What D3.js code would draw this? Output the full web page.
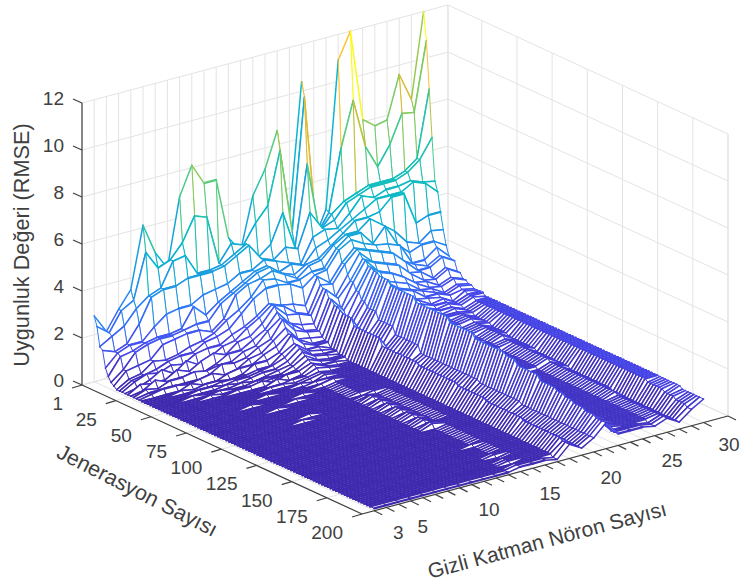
<!DOCTYPE html>
<html><head><meta charset="utf-8">
<script src="https://cdn.jsdelivr.net/npm/d3@7"></script>
<style>html,body{margin:0;padding:0;background:#fff}svg{display:block}text{font-family:"Liberation Sans",Arial,sans-serif;fill:#404040}</style>
</head><body><svg id="c" width="741" height="583"></svg>
<script>
// values are RMSE x 10, one array per hidden-neuron count, rows follow generationRows
const n01=[28,24,16,15,8,5,3,2,1,1, 1,1,1,1,1,1,1,1,1,1, 1,1,1,1,1,1,1,1,1,1, 1,1,1,1,1,1,1,1,1,1, 1,1,1,1,1,1,1,1,1,1, 1,1,1,1,1,1,1,1,1,1, 1,1,1,1,1,1,1,1,1,1, 1,1,1,1,1,1,1,1,1,1, 1,1,1,1,1,1,1,1,1,1, 1,1,1,1,1,1,1,1,1,1];
const n02=[20,20,19,13,13,12,7,7,4,4, 4,2,4,2,3,2,2,1,1,1, 1,1,1,1,1,1,1,1,1,1, 1,1,1,1,1,1,1,1,1,1, 1,1,1,1,1,1,1,1,1,1, 1,1,1,1,1,1,1,1,1,1, 1,1,1,1,1,1,1,1,1,1, 1,1,1,1,1,1,1,1,1,1, 1,1,1,1,1,1,1,1,1,1, 1,1,1,1,1,1,1,1,1,1];
const n03=[28,28,22,15,15,13,13,8,5,5, 6,4,3,5,2,2,3,1,1,1, 1,1,1,1,1,1,1,1,1,1, 1,1,1,1,1,1,1,1,1,1, 1,1,1,1,1,1,1,1,1,1, 1,1,1,1,1,1,1,1,1,1, 1,1,1,1,1,1,1,1,1,1, 1,1,1,1,1,1,1,1,1,1, 1,1,1,1,1,1,1,1,1,1, 1,1,1,1,1,1,1,1,1,1];
const n04=[35,31,28,22,15,15,15,9,9,6, 5,7,3,3,4,2,3,1,2,1, 1,1,2,1,1,1,1,1,1,1, 1,1,1,1,1,1,1,1,1,1, 1,1,1,1,1,1,1,1,1,1, 1,1,1,1,1,1,1,1,1,1, 1,1,1,1,1,1,1,1,1,1, 1,1,1,1,1,1,1,1,1,1, 1,1,1,1,1,1,1,1,1,1, 1,1,1,1,1,1,1,1,1,1];
const n05=[61,50,32,32,20,16,16,14,8,8, 7,4,6,3,4,2,2,3,1,1, 2,1,1,1,2,1,1,1,1,1, 1,1,1,1,1,1,1,1,1,1, 1,1,1,1,1,1,1,1,1,1, 1,1,1,1,1,1,1,1,1,1, 1,1,1,1,1,1,1,1,1,1, 1,1,1,1,1,1,1,1,1,1, 1,1,1,1,1,1,1,1,1,1, 1,1,1,1,1,1,1,1,1,1];
const n06=[48,42,34,34,24,16,16,15,9,9, 6,8,4,4,5,2,3,1,2,1, 2,1,1,2,1,1,1,1,1,1, 1,1,1,1,2,1,1,1,1,1, 1,1,1,1,1,1,1,1,1,1, 1,1,1,1,1,1,1,1,1,1, 1,1,1,1,1,1,1,1,1,1, 1,1,1,1,1,1,1,1,1,1, 1,1,1,1,1,1,1,1,1,1, 1,1,1,1,1,1,1,1,1,1];
const n07=[40,44,44,34,25,17,17,16,11,9, 9,5,7,3,4,3,4,1,2,2, 1,2,1,1,1,2,1,1,1,1, 1,1,1,1,1,1,1,1,1,2, 1,1,1,1,1,1,1,1,2,1, 1,1,1,1,1,1,1,1,1,1, 1,1,1,1,1,1,1,1,1,1, 1,1,1,1,1,1,1,1,1,1, 1,1,1,1,1,1,1,1,1,1, 1,1,1,1,1,1,1,1,1,1];
const n08=[69,50,45,36,25,25,18,16,12,12, 10,7,9,5,5,6,2,3,1,2, 2,1,2,1,1,2,1,1,1,1, 1,2,1,1,1,1,1,1,1,1, 1,1,1,1,1,1,2,1,1,1, 1,1,1,1,1,1,1,1,1,1, 1,1,1,1,1,1,1,1,1,1, 1,1,1,1,1,1,1,1,1,1, 1,1,1,1,1,1,1,1,1,1, 1,1,1,1,1,1,1,1,1,1];
const n09=[81,60,36,36,28,20,18,14,14,13, 10,10,7,8,5,5,3,4,2,2, 2,2,1,2,1,3,1,1,2,1, 1,1,1,1,1,1,1,2,1,1, 1,1,1,1,1,1,1,1,1,1, 1,1,1,1,1,1,1,1,1,1, 1,1,1,1,1,1,1,1,1,1, 1,1,1,1,1,1,1,1,1,1, 1,1,1,1,1,1,1,1,1,1, 1,1,1,1,1,1,1,1,1,1];
const n10=[72,58,36,36,29,24,24,18,18,15, 13,11,11,8,8,6,6,4,5,3, 3,3,2,2,2,1,3,1,2,1, 1,1,1,1,1,2,1,1,1,1, 1,1,1,1,1,1,1,1,1,1, 1,1,1,1,1,1,1,1,1,1, 1,1,1,1,1,1,1,1,1,1, 1,1,1,1,1,1,1,1,1,1, 1,1,1,1,1,1,1,1,1,1, 1,1,1,1,1,1,1,1,1,1];
const n11=[72,37,37,37,30,27,27,27,21,20, 15,15,12,11,9,9,7,7,5,3, 4,3,3,2,2,3,1,2,1,1, 2,1,1,1,1,1,1,1,1,1, 1,1,1,1,1,1,1,1,1,1, 1,1,1,1,1,1,1,1,1,1, 1,1,1,1,1,1,1,1,1,1, 1,1,1,1,1,1,1,1,1,1, 1,1,1,1,1,1,1,1,1,1, 1,1,1,1,1,1,1,1,1,1];
const n12=[46,44,40,40,33,30,30,30,25,25, 18,18,16,14,14,11,11,9,7,7, 6,5,4,4,3,3,2,2,2,2, 1,2,1,2,1,1,1,1,1,1, 1,1,1,1,1,1,1,1,1,1, 1,1,1,1,1,1,1,1,1,1, 1,1,1,1,1,1,1,1,1,1, 1,1,1,1,1,1,1,1,1,1, 1,1,1,1,1,1,1,1,1,1, 1,1,1,1,1,1,1,1,1,1];
const n13=[39,42,43,43,33,33,33,31,31,28, 22,22,22,20,18,18,15,13,13,10, 10,9,8,7,6,5,5,4,3,3, 3,2,2,3,2,2,2,2,2,2, 2,2,2,1,2,2,3,3,2,3, 3,2,3,3,2,3,3,3,2,3, 3,3,2,3,3,3,2,3,3,1, 1,1,1,1,1,1,1,1,1,1, 1,1,2,1,1,1,1,1,1,2, 2,1,1,2,2,2,1,2,2,2];
const n14=[61,50,36,36,36,34,34,33,30,28, 20,20,17,14,14,12,9,9,8,6, 6,5,5,4,4,3,3,3,2,2, 2,2,2,2,2,2,2,2,2,2, 2,2,2,2,1,1,1,1,1,1, 1,1,1,1,1,1,1,1,1,1, 1,1,1,1,1,1,2,2,2,2, 2,2,2,2,2,2,2,2,2,2, 2,2,2,2,2,2,2,2,2,2, 2,2,2,2,2,2,2,2,2,2];
const n15=[71,56,40,34,34,30,30,30,27,27, 19,16,16,12,10,10,8,6,6,6, 5,4,4,3,3,3,2,2,2,2, 2,2,2,2,2,2,2,2,2,2, 2,2,2,2,2,2,2,2,2,2, 2,2,2,2,2,2,2,2,2,2, 2,2,2,2,2,2,2,2,2,2, 2,2,2,2,2,2,2,2,2,2, 2,2,2,2,2,2,2,2,2,2, 2,2,2,2,2,2,2,2,2,2];
const n16=[86,78,52,38,32,32,28,27,27,24, 17,14,14,11,9,9,7,6,6,4, 4,4,3,3,3,2,2,2,2,2, 2,2,2,2,2,2,2,2,2,2, 2,2,2,2,2,2,2,2,2,2, 2,2,2,2,2,2,2,2,2,2, 2,2,2,2,2,2,2,2,2,2, 2,2,2,2,2,2,2,2,2,2, 2,2,2,2,2,2,2,2,2,2, 2,2,2,2,2,2,2,2,1,1];
const n17=[48,42,36,36,30,30,31,31,29,28, 28,25,24,24,21,21,19,19,18,17, 17,17,17,14,14,14,14,14,14,14, 14,14,14,11,11,11,11,11,11,11, 11,11,11,11,11,11,10,10,10,10, 10,10,10,10,10,10,10,10,10,10, 9,9,9,9,9,9,9,9,9,9, 8,8,8,8,8,8,8,8,8,8, 8,8,8,7,7,7,7,7,7,7, 7,7,7,7,7,7,7,6,6,6];
const n18=[104,98,70,50,40,36,32,32,29,29, 24,24,19,19,15,15,12,11,11,9, 9,8,8,8,7,7,7,7,6,6, 6,6,6,5,5,5,5,5,5,5, 5,4,4,4,4,4,4,4,4,4, 4,4,4,4,4,4,3,3,3,3, 3,3,3,3,3,3,3,3,3,3, 3,3,3,3,3,3,3,3,3,3, 3,3,3,3,3,3,3,3,3,3, 3,3,3,3,3,3,3,3,3,3];
const n19=[35,38,40,42,42,38,36,37,36,36, 31,31,27,25,25,22,22,19,19,17, 17,17,17,14,14,14,14,14,14,11, 11,11,11,11,11,11,11,11,8,8, 8,8,8,8,8,8,8,8,8,8, 8,8,8,8,8,8,8,8,8,7, 7,7,7,7,7,7,7,7,7,7, 7,7,7,7,6,6,6,6,6,6, 6,6,6,6,6,6,6,6,6,6, 6,6,6,6,6,6,6,6,6,6];
const n20=[47,46,46,44,41,41,40,40,40,39, 36,36,35,33,33,31,31,30,30,29, 29,29,29,27,27,27,27,27,27,27, 27,27,25,25,25,25,25,25,25,25, 25,25,25,25,23,23,23,23,23,23, 23,23,23,21,21,21,21,21,21,21, 21,21,21,21,20,20,20,20,18,18, 18,18,18,18,18,18,16,16,16,16, 16,16,15,15,15,14,14,14,13,13, 13,13,12,12,12,12,11,11,11,11];
const n21=[109,72,50,50,46,44,44,40,40,36, 34,34,30,30,27,27,24,24,21,21, 19,19,19,16,16,16,16,13,13,13, 13,13,13,13,12,12,12,11,11,11, 11,10,10,10,10,9,9,9,9,9, 9,8,8,8,8,8,8,8,8,7, 7,7,7,7,7,7,7,7,7,7, 7,7,6,6,6,6,6,6,6,6, 6,6,6,6,6,6,6,6,6,6, 6,6,6,6,6,6,6,5,5,5];
const n22=[120,91,52,52,52,47,44,44,34,34, 32,32,28,28,25,25,22,20,20,17, 16,15,14,14,13,12,12,11,11,10, 10,10,9,9,9,8,8,8,8,7, 7,7,7,7,7,7,6,6,6,6, 6,6,6,6,6,6,6,6,5,5, 5,5,5,5,5,5,5,5,5,5, 5,5,5,5,5,5,5,5,5,5, 5,5,5,5,5,5,5,5,5,5, 5,5,5,5,5,5,5,5,5,5];
const n23=[81,70,54,54,50,50,45,40,40,33, 30,30,26,26,22,22,20,18,18,15, 15,14,13,13,12,12,11,11,10,10, 10,10,9,9,9,9,8,8,8,8, 7,7,7,7,7,7,6,6,6,6, 6,6,6,6,6,6,6,6,5,5, 5,5,5,5,5,5,5,5,5,5, 5,5,5,5,5,5,5,5,5,5, 5,5,5,5,5,5,5,5,5,5, 5,5,5,5,5,5,5,5,5,5];
const n24=[77,60,54,54,52,50,50,36,31,31, 25,25,21,21,18,18,16,16,14,14, 12,12,11,11,10,10,10,9,9,9, 9,8,8,8,8,8,7,7,7,7, 7,7,7,7,7,6,6,6,6,6, 6,6,6,6,6,6,6,6,5,5, 5,5,5,5,5,5,5,5,5,5, 5,5,5,5,5,5,5,5,5,5, 5,5,5,5,5,5,5,5,5,5, 5,5,5,5,5,5,5,4,4,4];
const n25=[78,68,54,54,52,50,50,30,26,22, 22,20,20,17,17,15,15,14,14,13, 13,12,12,11,11,10,10,10,10,10, 10,9,9,9,9,9,9,9,9,9, 9,9,8,8,8,8,8,8,8,8, 8,8,8,8,8,8,8,8,7,7, 7,7,7,7,7,7,7,7,7,7, 7,7,7,7,7,7,7,7,7,7, 7,7,6,6,6,6,6,6,6,6, 6,6,6,6,6,6,6,6,6,6];
const n26=[96,80,56,56,53,53,36,28,28,22, 20,20,16,16,14,14,12,12,12,10, 10,10,10,9,9,9,9,8,8,8, 8,8,8,7,7,7,7,7,7,6, 6,6,6,6,6,6,6,6,6,5, 5,5,5,5,5,5,5,5,5,5, 5,4,4,4,4,4,4,4,4,4, 4,4,4,4,4,4,3,3,3,3, 3,3,3,3,3,3,3,3,3,3, 3,3,3,3,3,3,3,3,3,3];
const n27=[84,79,60,60,51,51,38,32,28,26, 23,23,19,19,16,16,14,14,13,13, 12,12,12,11,11,11,11,11,11,11, 11,11,11,11,11,11,11,11,11,11, 11,11,11,11,11,11,11,11,11,11, 11,11,11,11,11,11,11,11,11,11, 11,11,11,11,11,11,11,11,11,11, 11,11,11,11,11,11,11,11,11,11, 11,11,11,11,10,10,10,10,10,10, 9,9,9,9,8,8,8,8,7,7];
const n28=[120,108,88,68,50,46,38,31,25,21, 20,20,16,16,14,14,13,13,12,12, 12,12,11,11,11,11,11,11,11,11, 11,11,11,11,11,11,11,11,11,11, 11,11,11,11,11,11,11,11,11,11, 11,11,11,11,11,11,11,11,11,11, 11,11,11,11,11,11,11,11,11,11, 11,11,11,11,11,11,11,11,11,11, 11,11,11,11,11,11,11,11,11,11, 11,11,10,10,10,10,10,10,10,10];
const neuronColumns=[n01,n02,n03,n04,n05,n06,n07,n08,n09,n10,n11,n12,n13,n14,n15,n16,n17,n18,n19,n20,n21,n22,n23,n24,n25,n26,n27,n28];
const neurons=neuronColumns.map((_,k)=>k+1);
const generationRows=d3.range(1,199,2).concat([200]);
const xTicks=d3.range(1,29).concat([30]);
const xLabels=[3,5,10,15,20,25,30];
const yTicks=[1,25,50,75,100,125,150,175,200];
const zTicks=[0,2,4,6,8,10,12];
const parulaStops=["#3e26a8","#4748eb","#3079f9","#1a9ede","#06b8cc","#24c2ad","#59cc80","#99ca4d","#d9ba33","#fcbf38","#f9fb15"];

const svg=d3.select("#c");
const xs=d3.scaleLinear().domain([0,30]).range([0,1]);
const ys=d3.scaleLinear().domain([1,200]).range([0,1]);
const zs=d3.scaleLinear().domain([0,12]).range([0,1]);
const color=d3.scaleLinear().domain(d3.range(11).map(d=>d*1.2)).range(parulaStops).clamp(true);
const A=[82,385],ex=[366,-98],ey=[280,129],ez=[0,-282];
const P=(x,g,z)=>[A[0]+xs(x)*ex[0]+ys(g)*ey[0], A[1]+xs(x)*ex[1]+ys(g)*ey[1]+zs(z)*ez[1]];
const line=(a,b,c,w)=>svg.append("path").attr("d",`M${a[0].toFixed(2)},${a[1].toFixed(2)}L${b[0].toFixed(2)},${b[1].toFixed(2)}`).attr("stroke",c).attr("stroke-width",w).attr("fill","none");

// walls & floor grid
const grid="#e3e3e3";
zTicks.forEach(z=>{line(P(0,1,z),P(30,1,z),grid,1);line(P(30,1,z),P(30,200,z),grid,1);});
xTicks.forEach(x=>{line(P(x,1,0),P(x,1,12),grid,1);line(P(x,1,0),P(x,200,0),grid,1);});
yTicks.forEach(g=>{line(P(30,g,0),P(30,g,12),grid,1);line(P(0,g,0),P(30,g,0),grid,1);});
line(P(0,1,12),P(0,1,0),grid,1);line(P(30,200,12),P(30,200,0),grid,1);

// mesh: white faces, edges coloured by their first vertex, painted back to front
const R=generationRows.length,C=neurons.length;
const Z=(i,j)=>Math.min(neuronColumns[j][i]/10,12);
const g=svg.append("g");
const seg=(a,b,c,w)=>g.append("path").attr("d",`M${a[0].toFixed(1)},${a[1].toFixed(1)}L${b[0].toFixed(1)},${b[1].toFixed(1)}`).attr("stroke",c).attr("stroke-width",w).attr("fill","none").attr("stroke-linecap","round");
const xw=(d)=>Math.abs(d)<0.05?2.2:1.5;
for(let i=0;i<R-1;i++){
  for(let j=C-2;j>=0;j--){
    const g0=generationRows[i],g1=generationRows[i+1],x0=neurons[j],x1=neurons[j+1];
    const a=P(x0,g0,Z(i,j)),b=P(x1,g0,Z(i,j+1)),c=P(x1,g1,Z(i+1,j+1)),d=P(x0,g1,Z(i+1,j));
    g.append("polygon").attr("points",[a,b,c,d].map(p=>p[0].toFixed(1)+","+p[1].toFixed(1)).join(" ")).attr("fill","#fff");
    seg(a,b,color(Z(i,j)),xw(Z(i,j)-Z(i,j+1)));
    seg(b,c,color(Z(i,j+1)),1);
    seg(a,d,color(Z(i,j)),1);
    seg(d,c,color(Z(i+1,j)),xw(Z(i+1,j)-Z(i+1,j+1)));
  }
}

// axes
const ax="#404040";
line(P(0,1,0),P(0,1,12),ax,1.2);
line(P(0,1,0),P(0,200,0),ax,1.2);
line(P(0,200,0),P(30,200,0),ax,1.2);
const fs=19;
zTicks.forEach(z=>{const p=P(0,1,z);line(p,[p[0]-9,p[1]-4],ax,1.2);
  svg.append("text").attr("x",64).attr("y",p[1]+1.5).attr("text-anchor","end").attr("font-size",fs).text(z);});
yTicks.forEach(t=>{const p=P(0,t,0);line(p,[p[0]-10,p[1]+3],ax,1.2);
  svg.append("text").attr("x",p[0]-19).attr("y",p[1]+25).attr("text-anchor","end").attr("font-size",fs).text(t);});
xTicks.forEach(t=>{const p=P(t,200,0);line(p,[p[0]+8,p[1]+4],ax,1.2);});
xLabels.forEach(t=>{const p=P(t,200,0);
  svg.append("text").attr("x",Math.min(p[0]-5.5,718.5)).attr("y",p[1]+35).attr("text-anchor","start").attr("font-size",fs).text(t);});
svg.append("text").attr("transform","translate(29,245) rotate(-90)").attr("text-anchor","middle").attr("font-size",21.7).text("Uygunluk Değeri (RMSE)");
svg.append("text").attr("transform","translate(134,497) rotate(27)").attr("text-anchor","middle").attr("font-size",21.5).text("Jenerasyon Sayısı");
svg.append("text").attr("transform","translate(549,547) rotate(-15)").attr("text-anchor","middle").attr("font-size",21).text("Gizli Katman Nöron Sayısı");
</script></body></html>
